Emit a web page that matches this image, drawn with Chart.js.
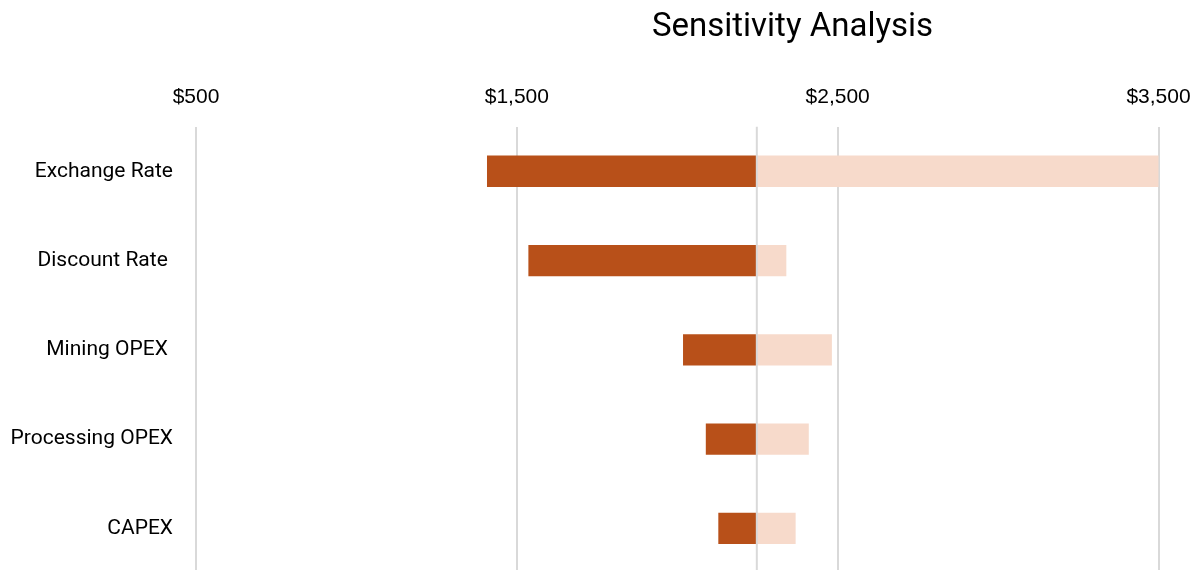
<!DOCTYPE html>
<html>
<head>
<meta charset="utf-8">
<script src="https://cdn.jsdelivr.net/npm/chart.js@4/dist/chart.umd.min.js"></script>
<style>
  html, body { margin: 0; padding: 0; background: #fff; overflow: hidden; }
  #wrap { position: relative; width: 1201px; height: 573px; }
</style>
</head>
<body>
<div id="wrap"><canvas id="c"></canvas></div>
<script>
const chartTitle = 'Sensitivity Analysis';
const categories = ['Exchange Rate', 'Discount Rate ', 'Mining OPEX ', 'Processing OPEX', 'CAPEX'];
const baseValue = 2248;
const lowValues = [1407, 1536, 2018, 2089, 2128];
const highValues = [3515, 2340, 2482, 2410, 2369];
const xTicks = [500, 1500, 2500, 3500];

const lowColor = '#B85019';
const highColor = '#F7DACB';
const gridColor = '#D9D9D9';

const baseLinePlugin = {
  id: 'baseLine',
  afterDatasetsDraw(chart) {
    const { ctx, chartArea, scales } = chart;
    const x = scales.x.getPixelForValue(baseValue);
    ctx.save();
    ctx.strokeStyle = gridColor;
    ctx.lineWidth = 2;
    ctx.beginPath();
    ctx.moveTo(x, chartArea.top);
    ctx.lineTo(x, chartArea.bottom);
    ctx.stroke();
    ctx.restore();
  }
};

const titlePlugin = {
  id: 'offsetTitle',
  afterDraw(chart) {
    const { ctx } = chart;
    ctx.save();
    ctx.font = '33px Roboto';
    ctx.fillStyle = '#000';
    ctx.textAlign = 'center';
    ctx.textBaseline = 'middle';
    ctx.fillText(chartTitle, 792.5, 28);
    ctx.restore();
  }
};

new Chart(document.getElementById('c'), {
  type: 'bar',
  data: {
    labels: categories,
    datasets: [
      {
        label: 'Low',
        data: categories.map((c, i) => [baseValue, lowValues[i]]),
        backgroundColor: lowColor,
        grouped: false,
        barPercentage: 0.352,
        categoryPercentage: 1
      },
      {
        label: 'High',
        data: categories.map((c, i) => [baseValue, highValues[i]]),
        backgroundColor: highColor,
        grouped: false,
        barPercentage: 0.352,
        categoryPercentage: 1
      }
    ]
  },
  options: {
    indexAxis: 'y',
    responsive: true,
    maintainAspectRatio: false,
    animation: false,
    layout: { padding: { top: 67.5, right: 42.5, bottom: 0, left: 0 } },
    plugins: {
      legend: { display: false },
      title: { display: false },
      tooltip: { enabled: false }
    },
    scales: {
      x: {
        position: 'top',
        min: 500,
        max: 3500,
        afterBuildTicks(scale) { scale.ticks = xTicks.map(v => ({ value: v })); },
        afterFit(scale) { scale.paddingLeft = 0; scale.paddingRight = 0; },
        grid: { color: gridColor, lineWidth: 2, drawTicks: false },
        border: { display: false },
        ticks: {
          padding: 17,
          maxRotation: 0,
          color: '#000',
          font: { family: 'Liberation Sans', size: 21 },
          callback: (v) => '$' + Number(v).toLocaleString('en-US')
        }
      },
      y: {
        grid: { display: false, drawTicks: false },
        border: { display: false },
        afterFit(scale) { scale.width = 196; scale.paddingTop = 0; scale.paddingBottom = 0; },
        ticks: {
          padding: 23,
          color: '#000',
          font: { family: 'Roboto', size: 21 }
        }
      }
    }
  },
  plugins: [baseLinePlugin, titlePlugin]
});
</script>
</body>
</html>
